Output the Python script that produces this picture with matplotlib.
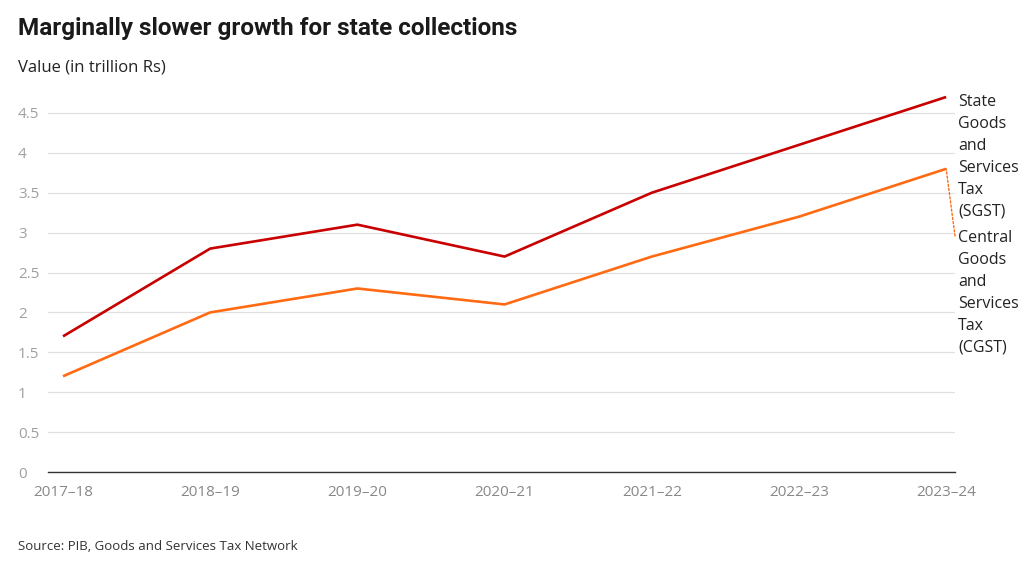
import matplotlib
matplotlib.use("Agg")
import matplotlib.pyplot as plt
from matplotlib import font_manager

years = ["2017–18", "2018–19", "2019–20", "2020–21", "2021–22", "2022–23", "2023–24"]
sgst = [1.7, 2.8, 3.1, 2.7, 3.5, 4.1, 4.7]
cgst = [1.2, 2.0, 2.3, 2.1, 2.7, 3.2, 3.8]
yticks = [0, 0.5, 1, 1.5, 2, 2.5, 3, 3.5, 4, 4.5]
ytick_labels = ["0", "0.5", "1", "1.5", "2", "2.5", "3", "3.5", "4", "4.5"]

plt.rcParams['font.family'] = ['Open Sans', 'DejaVu Sans']
names = {f.name for f in font_manager.fontManager.ttflist}
title_family = 'Liberation Sans Narrow' if 'Liberation Sans Narrow' in names else 'Roboto'

W, H = 1036, 566
fig = plt.figure(figsize=(W / 100, H / 100), dpi=100)
ax = fig.add_axes([48 / W, 1 - 472 / H, (955 - 48) / W, (472 - 93) / H])

x = list(range(len(years)))
red = "#c80000"
orange = "#ff6a13"
ax.plot(x, sgst, color=red, lw=1.9, solid_capstyle='butt', zorder=3)
ax.plot(x, cgst, color=orange, lw=1.9, solid_capstyle='butt', zorder=3)

ax.set_xlim(-0.102, 6.06)
ax.set_ylim(0, 4.75)

ax.set_yticks(yticks)
ax.set_yticklabels(ytick_labels)
ax.set_xticks(x)
ax.set_xticklabels(years)
for s in ["top", "right", "left"]:
    ax.spines[s].set_visible(False)
ax.spines["bottom"].set_color("#333333")
ax.spines["bottom"].set_linewidth(1.0)
ax.spines["bottom"].set_zorder(4)
ax.grid(axis='y', color="#e0e0e0", lw=0.9)
ax.set_axisbelow(True)
ax.tick_params(axis='y', length=0, pad=21.6, labelsize=11, labelcolor="#a0a0a0")
for lab in ax.get_yticklabels():
    lab.set_horizontalalignment('left')
ax.tick_params(axis='x', length=0, pad=9, labelsize=11, labelcolor="#888888")

# series labels
ax.text(958 / W, 1 - 94 / H, "State\nGoods\nand\nServices\nTax\n(SGST)", transform=fig.transFigure,
        ha='left', va='top', fontsize=11.5, color="#222222", linespacing=1.5)
ax.text(958 / W, 1 - 230 / H, "Central\nGoods\nand\nServices\nTax\n(CGST)", transform=fig.transFigure,
        ha='left', va='top', fontsize=11.5, color="#222222", linespacing=1.5)
# dotted leader from CGST end to its label
ax.annotate("", xy=(6, cgst[-1]), xycoords='data',
            xytext=(955 / W, 1 - 236 / H), textcoords='figure fraction',
            arrowprops=dict(arrowstyle='-', color=orange, lw=1.0, linestyle=(0, (1.5, 1.5)),
                            shrinkA=0, shrinkB=0), annotation_clip=False)

fig.text(18 / W, 1 - 28 / H, "Marginally slower growth for state collections", ha='left', va='center',
         fontsize=17.5, fontweight='bold', color="#1a1a1a", family=[title_family, 'DejaVu Sans'])
fig.text(18 / W, 1 - 68 / H, "Value (in trillion Rs)", ha='left', va='center', fontsize=12, color="#222222")
fig.text(18 / W, 1 - 546 / H, "Source: PIB, Goods and Services Tax Network", ha='left', va='center',
         fontsize=9.5, color="#333333")

fig.savefig("out.png", dpi=100)
